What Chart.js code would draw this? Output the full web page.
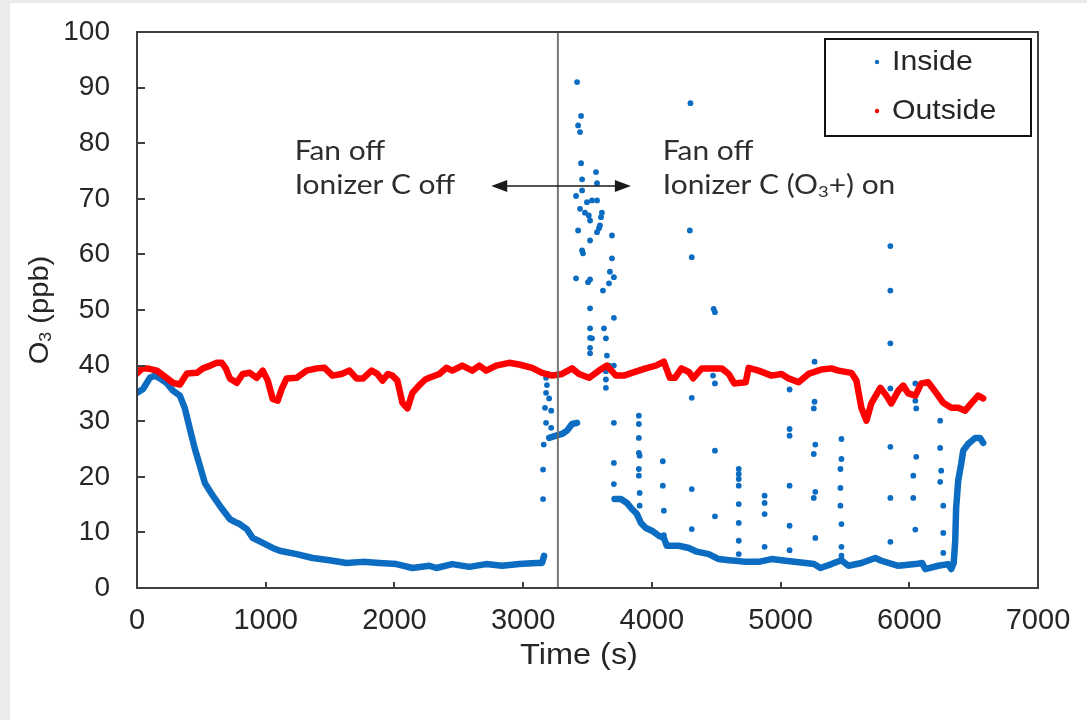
<!DOCTYPE html>
<html>
<head>
<meta charset="utf-8">
<script src="https://cdn.jsdelivr.net/npm/chart.js@4.4.1/dist/chart.umd.min.js"></script>
<style>
  html, body { margin: 0; padding: 0; background: #ffffff; }
  #wrap { position: absolute; left: 0; top: 0; width: 1087px; height: 720px; }
</style>
</head>
<body>
<div id="wrap"><canvas id="o3chart" width="1087" height="720"></canvas></div>
<script>
// Outdoor ozone, [time s, ppb]
const outside = [
  [0, 38.6], [40, 39.5], [80, 39.5], [155, 39.1], [230, 37.8], [280, 36.9], [333, 36.6],
  [388, 38.6], [465, 38.7], [512, 39.5], [570, 40.0], [620, 40.5], [659, 40.5], [690, 39.5],
  [721, 37.7], [775, 36.9], [822, 38.5], [876, 38.7], [930, 37.8], [977, 39.1], [1016, 37.3],
  [1054, 34.0], [1093, 33.7], [1124, 35.8], [1163, 37.7], [1240, 37.8], [1318, 39.1],
  [1395, 39.5], [1457, 39.6], [1519, 38.2], [1589, 38.5], [1651, 39.1], [1705, 37.7],
  [1757, 37.7], [1822, 39.1], [1868, 38.5], [1907, 37.3], [1950, 38.5], [1984, 38.2],
  [2023, 37.3], [2062, 33.3], [2101, 32.3], [2140, 35.1], [2194, 36.5], [2240, 37.5],
  [2271, 37.8], [2349, 38.5], [2403, 39.6], [2450, 39.1], [2527, 40.0], [2605, 39.1],
  [2659, 40.0], [2713, 39.1], [2791, 40.0], [2891, 40.5], [2969, 40.2], [3070, 39.6],
  [3147, 38.7], [3225, 38.2], [3302, 38.5], [3380, 39.5], [3434, 38.5], [3512, 37.8],
  [3589, 39.1], [3651, 40.0], [3721, 38.2], [3783, 38.2], [3845, 38.7], [3953, 39.5],
  [4031, 40.0], [4093, 40.7], [4140, 37.8], [4180, 37.8], [4230, 39.5], [4290, 38.8],
  [4320, 37.7], [4388, 39.5], [4450, 39.5], [4543, 39.5], [4597, 38.5], [4640, 36.8],
  [4729, 37.0], [4752, 39.6], [4829, 39.1], [4930, 38.2], [5008, 38.5], [5062, 37.7],
  [5140, 37.0], [5217, 38.5], [5318, 39.3], [5395, 39.5], [5450, 39.1], [5550, 38.7],
  [5589, 37.3], [5628, 32.4], [5667, 30.1], [5705, 33.2], [5775, 36.0], [5822, 34.6],
  [5860, 33.2], [5915, 35.5], [5953, 36.4], [5992, 35.0], [6047, 34.6], [6093, 36.8],
  [6147, 37.0], [6209, 35.1], [6264, 33.3], [6326, 32.4], [6380, 32.4], [6434, 31.9],
  [6481, 33.2], [6535, 34.6], [6574, 34.1]
];

// Indoor ozone, continuous stretches (null = instrument switching)
const inside = [
  [0, 35.1], [47, 35.8], [100, 37.8], [140, 38.2], [178, 37.7], [233, 36.8], [279, 35.5],
  [333, 34.6], [372, 32.3], [411, 28.6], [450, 25.0], [488, 22.0], [527, 18.9], [589, 16.6],
  [643, 14.8], [721, 12.4], [760, 11.9], [798, 11.5], [853, 10.6], [899, 9.0], [977, 8.1],
  [1054, 7.2], [1109, 6.7], [1240, 6.1], [1364, 5.4], [1496, 5.0], [1628, 4.5], [1752, 4.7],
  [1884, 4.5], [2016, 4.3], [2140, 3.6], [2271, 4.0], [2326, 3.6], [2450, 4.3], [2581, 3.8],
  [2713, 4.3], [2837, 4.0], [2969, 4.3], [3101, 4.5], [3147, 4.5], [3163, 5.8],
  [3180, null],
  [3202, 27.0], [3256, 27.4], [3302, 27.7], [3341, 28.3], [3380, 29.5], [3419, 29.7],
  [3560, null],
  [3710, 16.0], [3760, 16.0], [3806, 15.3], [3845, 14.2], [3884, 13.3], [3915, 11.7],
  [3953, 10.8], [4000, 10.3], [4054, 9.4], [4093, 9.0], [4116, 7.6], [4209, 7.6],
  [4287, 7.2], [4341, 6.6], [4442, 6.1], [4519, 5.2], [4600, 5.0], [4651, 4.9], [4729, 4.7],
  [4829, 4.7], [4930, 5.2], [5039, 4.9], [5194, 4.5], [5260, 4.3], [5310, 3.6], [5395, 4.3],
  [5473, 5.0], [5527, 4.0], [5628, 4.5], [5736, 5.4], [5783, 4.9], [5915, 4.0], [6047, 4.3],
  [6100, 4.5], [6124, 3.4], [6225, 4.0], [6302, 4.3], [6326, 3.4], [6345, 4.5], [6357, 8.5],
  [6364, 14.4], [6380, 19.3], [6403, 22.3], [6419, 24.7], [6457, 25.9], [6512, 27.0],
  [6550, 27.0], [6574, 26.1]
];

// Indoor readings caught during inlet switching
const insideSpikes = [
  [3155, 16.0], [3155, 21.3], [3160, 25.8], [3178, 29.7], [3170, 32.4], [3178, 35.1],
  [3185, 36.5], [3178, 37.8], [3202, 34.1], [3218, 31.9], [3218, 28.8], [3190, 38.5],
  [3419, 91.0], [3450, 84.9], [3427, 83.2], [3442, 82.0], [3450, 76.4], [3566, 74.8],
  [3458, 73.5], [3574, 72.8], [3458, 71.5], [3411, 70.5], [3496, 69.4], [3535, 69.7],
  [3574, 69.7], [3442, 68.2], [3480, 67.5], [3612, 67.5], [3510, 67.0], [3605, 66.7],
  [3520, 66.1], [3597, 65.2], [3589, 64.7], [3574, 64.0], [3427, 64.3], [3690, 63.4],
  [3520, 62.5], [3458, 60.7], [3465, 60.2], [3690, 59.3], [3674, 56.9], [3705, 55.9],
  [3411, 55.7], [3520, 55.5], [3504, 55.0], [3667, 54.8], [3620, 53.5], [3520, 50.3],
  [3705, 48.6], [3520, 46.7], [3628, 46.7], [3520, 45.0], [3535, 44.9], [3643, 44.9],
  [3520, 43.2], [3520, 42.2], [3651, 41.8], [3667, 40.0], [3705, 40.0],
  [3643, 39.0], [3643, 37.5], [3643, 36.0],
  [3705, 29.7], [3705, 22.5], [3705, 18.7],
  [3899, 31.0], [3899, 29.5], [3899, 27.0], [3899, 24.3], [3905, 23.8], [3899, 21.4],
  [3899, 20.2], [3905, 17.1], [3905, 14.8],
  [4085, 22.8], [4085, 18.4], [4093, 13.9], [4093, 9.5],
  [4300, 87.2], [4295, 64.3], [4310, 59.5], [4310, 34.2], [4310, 17.8], [4310, 10.6],
  [4480, 50.2], [4490, 49.6], [4475, 38.2], [4490, 36.8], [4490, 24.7], [4490, 12.9],
  [4675, 21.4], [4675, 20.5], [4675, 19.6], [4675, 18.4], [4675, 15.1], [4675, 11.7],
  [4675, 8.5], [4675, 6.1],
  [4876, 16.6], [4876, 15.3], [4876, 13.3], [4876, 7.4],
  [5070, 35.7], [5070, 28.6], [5070, 27.4], [5070, 18.4], [5070, 11.2], [5070, 6.8],
  [5264, 40.7], [5264, 33.5], [5258, 32.3], [5270, 25.8], [5258, 24.1], [5270, 17.3],
  [5258, 16.2], [5270, 9.0],
  [5473, 26.8], [5473, 23.2], [5465, 21.4], [5465, 18.0], [5465, 14.8], [5473, 11.5],
  [5473, 7.4], [5473, 5.8],
  [5853, 61.5], [5853, 53.5], [5853, 44.0], [5853, 35.9], [5853, 25.4], [5853, 16.2],
  [5853, 8.3],
  [6047, 36.8], [6047, 33.7], [6054, 32.3], [6054, 23.6], [6031, 20.2], [6031, 16.2],
  [6047, 10.5],
  [6240, 30.1], [6240, 25.2], [6248, 21.1], [6240, 19.1], [6264, 14.8], [6264, 9.9],
  [6264, 6.3]
];

const xTicks = [0, 1000, 2000, 3000, 4000, 5000, 6000, 7000];
const yTicks = [0, 10, 20, 30, 40, 50, 60, 70, 80, 90, 100];
const switchTime = 3270;

const BLUE = '#0b6cc2';
const RED = '#ff0000';
const AXIS = '#3f3f3f';
const TEXT = '#262626';
const SANS = '"Liberation Sans", Arial, sans-serif';
const NOTE = 'Lato, "Open Sans", sans-serif';

const toXY = rows => rows.map(r => ({ x: r[0], y: r[1] }));

// text pieces drawn in a row, some as subscripts, squeezed/stretched by hs
function drawRich(ctx, parts, x, y, size, family, hs = 1, align = 'left') {
  const fontFor = p => (p.sub ? Math.round(size * 0.62) : size) + 'px ' + family;
  let w = 0;
  parts.forEach(p => { ctx.font = fontFor(p); w += ctx.measureText(p.text).width; });
  ctx.save();
  ctx.translate(x, y);
  ctx.scale(hs, 1);
  ctx.textAlign = 'left';
  ctx.textBaseline = 'middle';
  let cx = align === 'center' ? -w / 2 : 0;
  parts.forEach(p => {
    ctx.font = fontFor(p);
    ctx.fillText(p.text, cx, p.sub ? size * 0.24 : 0);
    cx += ctx.measureText(p.text).width;
  });
  ctx.restore();
}

const decor = {
  id: 'decor',
  beforeDraw(chart) {
    const ctx = chart.ctx;
    ctx.save();
    ctx.fillStyle = '#ebebeb';
    ctx.fillRect(0, 0, chart.width, chart.height);
    ctx.fillStyle = '#ffffff';
    ctx.fillRect(10, 3, chart.width - 10, chart.height - 3);
    ctx.restore();
  },
  afterDatasetsDraw(chart) {
    const { ctx, chartArea } = chart;
    // moment the ionizer was switched on
    const px = chart.scales.x.getPixelForValue(switchTime);
    ctx.save();
    ctx.strokeStyle = 'rgba(105,105,105,0.9)';
    ctx.lineWidth = 2;
    ctx.beginPath();
    ctx.moveTo(px, chartArea.top);
    ctx.lineTo(px, chartArea.bottom);
    ctx.stroke();
    ctx.restore();
  },
  afterDraw(chart) {
    const { ctx, chartArea: a } = chart;
    const xs = chart.scales.x, ys = chart.scales.y;
    ctx.save();

    // plot frame with inward tick marks
    ctx.strokeStyle = AXIS;
    ctx.lineWidth = 2;
    ctx.strokeRect(a.left, a.top, a.right - a.left, a.bottom - a.top);
    ctx.beginPath();
    xTicks.forEach(t => {
      const p = Math.round(xs.getPixelForValue(t));
      ctx.moveTo(p, a.bottom);
      ctx.lineTo(p, a.bottom - 6);
    });
    yTicks.forEach(t => {
      const p = Math.round(ys.getPixelForValue(t));
      ctx.moveTo(a.left, p);
      ctx.lineTo(a.left + 8, p);
    });
    ctx.stroke();

    // axis titles
    ctx.fillStyle = TEXT;
    drawRich(ctx, [{ text: 'Time (s)' }], 579, 656, 29, SANS, 1.12, 'center');
    ctx.save();
    ctx.translate(40, (a.top + a.bottom) / 2);
    ctx.rotate(-Math.PI / 2);
    drawRich(ctx, [{ text: 'O' }, { text: '3', sub: true }, { text: ' (ppb)' }], 0, 0, 28, SANS, 1.04, 'center');
    ctx.restore();

    // phase labels
    ctx.fillStyle = '#2e2e2e';
    const lx = xs.getPixelForValue(1225), rx = xs.getPixelForValue(4085);
    const l1 = ys.getPixelForValue(78.4), l2 = ys.getPixelForValue(72.3);
    drawRich(ctx, [{ text: 'Fan off' }], lx, l1, 26, NOTE, 1.15);
    drawRich(ctx, [{ text: 'Ionizer C off' }], lx, l2, 26, NOTE, 1.15);
    drawRich(ctx, [{ text: 'Fan off' }], rx, l1, 26, NOTE, 1.15);
    drawRich(ctx, [{ text: 'Ionizer C (O' }, { text: '3', sub: true }, { text: '+) on' }], rx, l2, 26, NOTE, 1.15);

    // double-headed arrow across the switch
    const ax0 = xs.getPixelForValue(2752), ax1 = xs.getPixelForValue(3837);
    const ay = ys.getPixelForValue(72.3);
    ctx.strokeStyle = '#1a1a1a';
    ctx.fillStyle = '#1a1a1a';
    ctx.lineWidth = 1.5;
    ctx.beginPath();
    ctx.moveTo(ax0 + 10, ay);
    ctx.lineTo(ax1 - 10, ay);
    ctx.stroke();
    ctx.beginPath();
    ctx.moveTo(ax0, ay); ctx.lineTo(ax0 + 16, ay - 6); ctx.lineTo(ax0 + 16, ay + 6); ctx.closePath();
    ctx.moveTo(ax1, ay); ctx.lineTo(ax1 - 16, ay - 6); ctx.lineTo(ax1 - 16, ay + 6); ctx.closePath();
    ctx.fill();

    // legend box
    ctx.lineWidth = 2;
    ctx.strokeStyle = '#111111';
    ctx.strokeRect(825, 39, 206, 97);
    const items = [['Inside', BLUE, 62], ['Outside', RED, 111]];
    items.forEach(([label, color, y]) => {
      ctx.fillStyle = color;
      ctx.beginPath();
      ctx.arc(877, y, 2.2, 0, Math.PI * 2);
      ctx.fill();
      ctx.fillStyle = TEXT;
      drawRich(ctx, [{ text: label }], 892, y, 28, SANS, 1.08);
    });

    ctx.restore();
  }
};

new Chart(document.getElementById('o3chart'), {
  type: 'scatter',
  data: {
    datasets: [
      {
        label: 'Outside',
        data: toXY(outside),
        showLine: true,
        borderColor: RED,
        borderWidth: 6.5,
        borderCapStyle: 'round',
        borderJoinStyle: 'round',
        pointRadius: 0,
        backgroundColor: RED
      },
      {
        label: 'Inside',
        data: toXY(inside),
        showLine: true,
        spanGaps: false,
        borderColor: BLUE,
        borderWidth: 6.5,
        borderCapStyle: 'round',
        borderJoinStyle: 'round',
        pointRadius: 0,
        backgroundColor: BLUE
      },
      {
        label: 'Inside (switching)',
        data: toXY(insideSpikes),
        showLine: false,
        pointRadius: 2.9,
        pointBorderWidth: 0,
        backgroundColor: BLUE
      }
    ]
  },
  options: {
    responsive: false,
    devicePixelRatio: 1,
    animation: false,
    layout: { padding: { top: 32, right: 49, left: 0, bottom: 0 } },
    plugins: { legend: { display: false }, tooltip: { enabled: false } },
    scales: {
      x: {
        type: 'linear',
        min: 0, max: 7000,
        afterFit(s) { s.height = 132; s.paddingLeft = 0; s.paddingRight = 0; },
        afterBuildTicks(s) { s.ticks = xTicks.map(v => ({ value: v })); },
        ticks: {
          padding: 16, color: TEXT, maxRotation: 0, autoSkip: false,
          font: { family: SANS, size: 29 },
          callback: v => String(v)
        },
        grid: { display: false, drawTicks: false },
        border: { display: false }
      },
      y: {
        min: 0, max: 100,
        afterFit(s) { s.width = 137; s.paddingTop = 0; s.paddingBottom = 0; },
        afterBuildTicks(s) { s.ticks = yTicks.map(v => ({ value: v })); },
        ticks: {
          padding: 27, color: TEXT, autoSkip: false,
          font: { family: SANS, size: 28 },
          callback: v => String(v)
        },
        grid: { display: false, drawTicks: false },
        border: { display: false }
      }
    }
  },
  plugins: [decor]
});
</script>
</body>
</html>
